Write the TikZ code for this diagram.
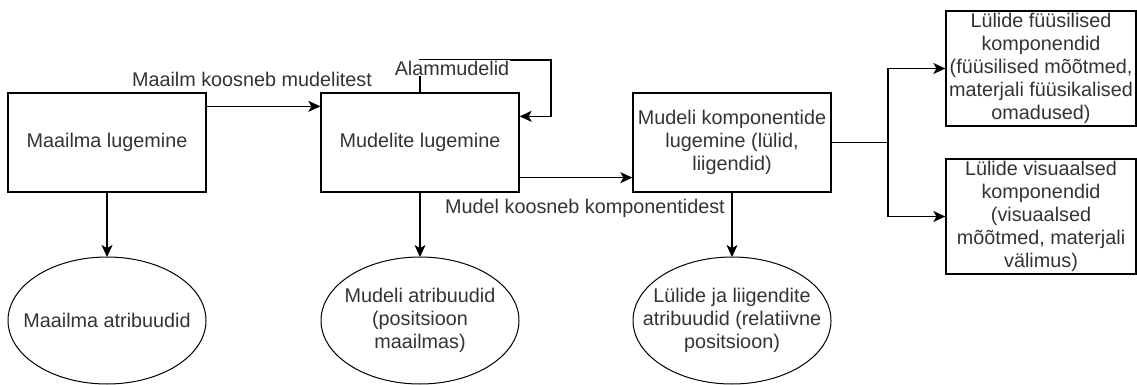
\documentclass[tikz,border=0pt]{standalone}
\usepackage{fontspec}
\setmainfont{Liberation Sans}
\usetikzlibrary{arrows.meta}

\begin{document}
\begin{tikzpicture}[x=1pt,y=-1pt,>={Stealth[length=12pt,width=11pt,inset=3pt]},
  font=\fontsize{19.8}{23}\selectfont,
  box/.style={draw, line width=1.3pt, minimum width=198pt, minimum height=99pt,
    inner sep=0pt, align=center, text=black!80},
  sidebox/.style={box, minimum width=190pt, minimum height=115pt},
  attr/.style={inner sep=0pt, align=center, text=black!80},
  lbl/.style={fill=white, inner sep=1pt, text=black!80},
  conn/.style={->, line width=1.3pt}]

\useasboundingbox (0,0) rectangle (1137,385);

% --- Lugemise sammud ---
\node[box] (rworld) at (107,142.5) {Maailma lugemine};
\node[box] (rmodels) at (420,142.5) {Mudelite lugemine};
\node[box] (rcomp) at (732,142.5) {Mudeli komponentide\\lugemine (lülid,\\liigendid)};
\node[sidebox] (rphys) at (1041,68.5) {Lülide füüsilised\\komponendid\\(füüsilised mõõtmed,\\materjali füüsikalised\\omadused)};
\node[sidebox] (rvis) at (1041,216.5) {Lülide visuaalsed\\komponendid\\(visuaalsed\\mõõtmed, materjali\\välimus)};

% --- Atribuudid (ellipsid) ---
\node[attr] (aworld) at (107,320.5) {Maailma atribuudid};
\node[attr] (amodels) at (420,320.5) {Mudeli atribuudid\\(positsioon\\maailmas)};
\node[attr] (acomp) at (732,320.5) {Lülide ja liigendite\\atribuudid (relatiivne\\positsioon)};
\foreach \a in {aworld,amodels,acomp}
  \draw[line width=1pt] (\a.center) ellipse [x radius=99, y radius=63.5];
\coordinate (tworld) at (107,257);
\coordinate (tmodels) at (420,257);
\coordinate (tcomp) at (732,257);

% --- Ühendused ---
\draw[conn] ([yshift=-14pt]rworld.north east) -- ([yshift=-14pt]rmodels.north west);
\draw[conn] ([yshift=15pt]rmodels.south east) -- ([yshift=15pt]rcomp.south west);
\draw[conn] (rmodels.north) -- (420,60) -- (551,60) |- ([yshift=-24pt]rmodels.north east);

\coordinate (fork) at (888,142.5);
\draw[conn] (rcomp.east) -- (fork) |- (rphys.west);
\draw[conn] (rcomp.east) -- (fork) |- (rvis.west);

\draw[conn] (rworld.south) -- (tworld);
\draw[conn] (rmodels.south) -- (tmodels);
\draw[conn] (rcomp.south) -- (tcomp);

% --- Sildid ---
\node[lbl] (lworld) at (252,79) {Maailm koosneb mudelitest};
\node[lbl] (lsub) at (452,68) {Alammudelid};
\node[lbl] (lmodel) at (585,208) {Mudel koosneb komponentidest};

\end{tikzpicture}
\end{document}
